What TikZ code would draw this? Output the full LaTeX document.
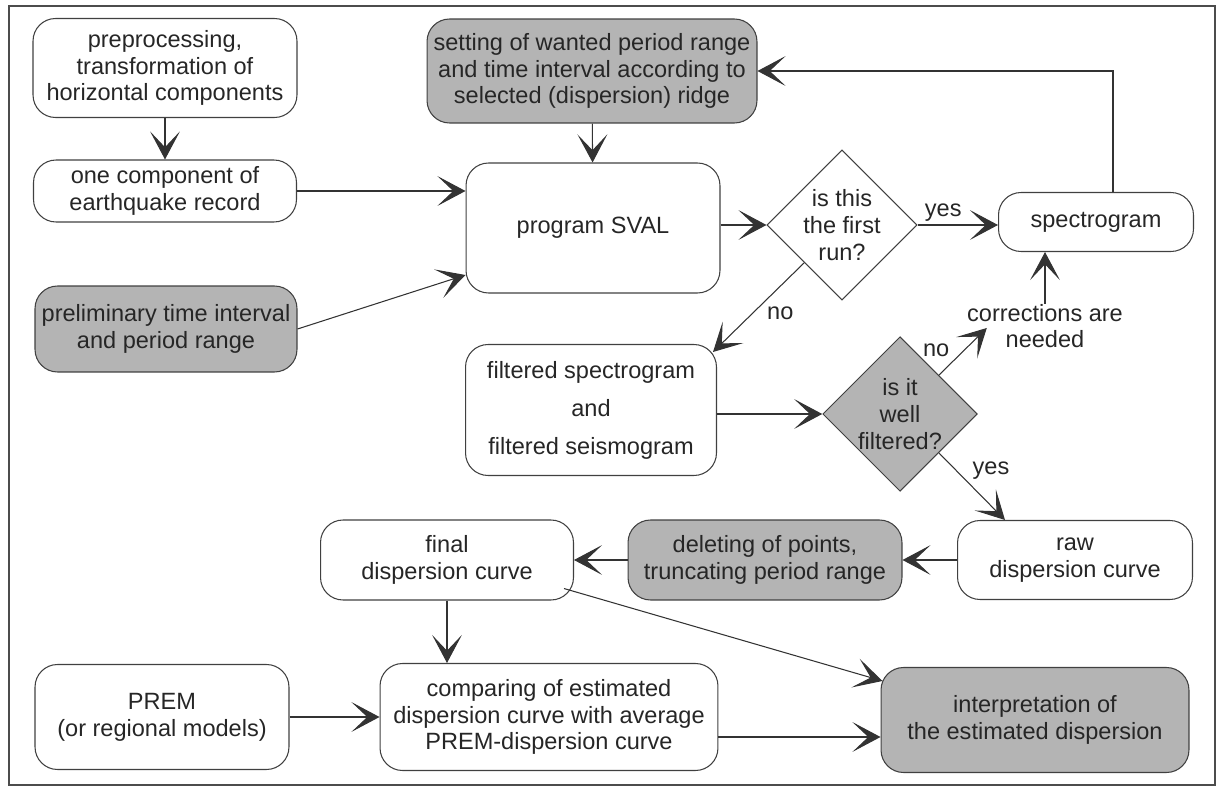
\documentclass[tikz,border=0pt]{standalone}
\usepackage{fontspec}
\setmainfont{Liberation Sans}
\usepackage{tikz}
\usetikzlibrary{shapes.geometric, arrows.meta, positioning, calc}
\definecolor{boxgrey}{RGB}{180,180,180}

\begin{document}
\begin{tikzpicture}[
  x=0.02cm, y=-0.02cm,
  >={Stealth[length=16pt, width=17pt, inset=9pt]},
  every node/.style={font=\fontsize{13.4}{15.2}\selectfont, text=black!85},
  box/.style={draw=black!75, line width=0.6pt, rounded corners=0.45cm, align=center, inner sep=0pt},
  greybox/.style={box, fill=boxgrey},
  decision/.style={draw=black!75, line width=0.6pt, diamond, aspect=1, align=center, inner sep=0pt, minimum width=3cm, minimum height=3cm},
  arr/.style={->, draw=black!80, line width=0.6pt},
  lbl/.style={inner sep=2pt}
]
  % Frame
  \useasboundingbox (0,0) rectangle (1218,787);
  \draw[black!70, line width=0.9pt] (9,6) rectangle (1215,785);

  % Input side
  \node[box, minimum width=5.28cm, minimum height=1.98cm] (pre) at (165,68) {preprocessing,\\transformation of\\horizontal components};
  \node[box, minimum width=5.26cm, minimum height=1.24cm] (one) at (165,191) {one component of\\earthquake record};
  \node[greybox, minimum width=5.24cm, minimum height=1.72cm] (prelim) at (166,329) {preliminary time interval\\and period range};

  % Program and first run
  \node[greybox, minimum width=6.6cm, minimum height=2.08cm] (set) at (592,71) {setting of wanted period range\\and time interval according to\\selected (dispersion) ridge};
  \node[box, minimum width=5.08cm, minimum height=2.6cm] (sval) at (593,228) {program SVAL};
  \node[decision] (first) at (842,225) {is this\\the first\\run?};
  \node[box, minimum width=3.9cm, minimum height=1.18cm] (spec) at (1096,222) {spectrogram};
  \node[align=center, inner sep=0pt] (corr) at (1045,326) {corrections are\\needed};

  % Filtering
  \node[box, minimum width=5.02cm, minimum height=2.62cm] (filt) at (591,410) {filtered spectrogram\\[6.4pt]and\\[6.4pt]filtered seismogram};
  \node[decision, fill=boxgrey] (well) at (900,414) {is it\\well\\filtered?};

  % Dispersion curves
  \node[box, minimum width=4.7cm, minimum height=1.58cm] (raw) at (1075,560) {raw\\dispersion curve};
  \node[greybox, minimum width=5.48cm, minimum height=1.6cm] (del) at (765,560) {deleting of points,\\truncating period range};
  \node[box, minimum width=5.06cm, minimum height=1.6cm] (final) at (447,560) {final\\dispersion curve};

  % Comparison
  \node[box, minimum width=5.08cm, minimum height=2.1cm] (prem) at (162,717) {PREM\\(or regional models)};
  \node[box, minimum width=6.76cm, minimum height=2.14cm] (comp) at (549,717) {comparing of estimated\\dispersion curve with average\\PREM-dispersion curve};
  \node[greybox, minimum width=6.16cm, minimum height=2.1cm] (interp) at (1035,720) {interpretation of\\the estimated dispersion};
  \coordinate (compout) at ($(comp.east)+(0,20)$);

  % Arrows
  \draw[arr] (pre) -- (one);
  \draw[arr] (one.east) -- (one.east -| sval.west);
  \draw[arr] (prelim.east) -- ($(sval.west)+(0,47)$);
  \draw[arr] (set) -- (sval);
  \draw[arr] (sval.east |- first.west) -- (first.west);
  \draw[arr] (first.east) -- node[lbl, above, pos=0.32] {yes} (first.east -| spec.west);
  \draw[arr] ($(spec.north)+(17,0)$) |- (set.east);
  \draw[arr] (first.south west) -- node[lbl, below right, pos=0.45] {no} ($(filt.north east)+(-4,8)$);
  \draw[arr] (filt.east |- well.west) -- (well.west);
  \draw[arr] (well.north east) -- node[lbl, above left, pos=0.3] {no} ($(corr.west)+(20,2)$);
  \draw[arr] (corr.north) -- (corr.north |- spec.south);
  \draw[arr] (well.south east) -- node[lbl, above right, pos=0.45] {yes} ($(raw.north)+(-70,0)$);
  \draw[arr] (raw) -- (del);
  \draw[arr] (del) -- (final);
  \draw[arr] (final.south) -- (final.south |- comp.north);
  \draw[arr] ($(final.south east)+(-10,-12)$) -- ($(interp.north west)+(2,14)$);
  \draw[arr] (prem) -- (comp);
  \draw[arr] (compout) -- (compout -| interp.west);

\end{tikzpicture}
\end{document}
